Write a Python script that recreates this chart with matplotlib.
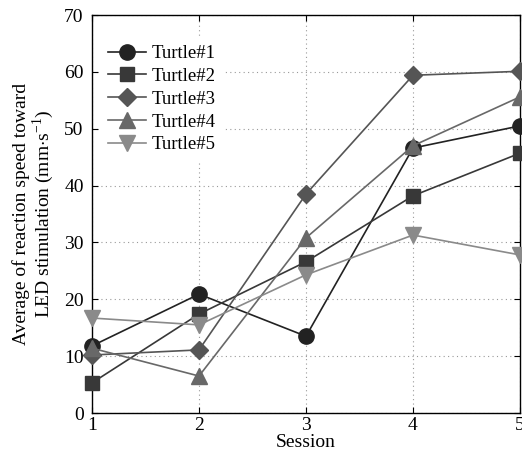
import matplotlib
matplotlib.use("Agg")
import matplotlib.pyplot as plt

plt.rcParams["font.family"] = ["Liberation Serif", "DejaVu Serif"]
plt.rcParams["mathtext.fontset"] = "custom"
plt.rcParams["mathtext.rm"] = "Liberation Serif"

# ── data ─────────────────────────────────────────────────────────────────────
sessions = [1, 2, 3, 4, 5]
turtle1 = [11.8, 20.9, 13.5, 46.6, 50.5]
turtle2 = [5.3, 17.4, 26.6, 38.2, 45.7]
turtle3 = [10.2, 11.1, 38.5, 59.4, 60.1]
turtle4 = [11.4, 6.5, 30.8, 47.0, 55.6]
turtle5 = [16.7, 15.5, 24.3, 31.3, 27.8]
names = ["Turtle#1", "Turtle#2", "Turtle#3", "Turtle#4", "Turtle#5"]
y_ticks = [0, 10, 20, 30, 40, 50, 60, 70]

series = [turtle1, turtle2, turtle3, turtle4, turtle5]
styles = [
    ("o", "#222222", 11),
    ("s", "#383838", 9.5),
    ("D", "#555555", 9),
    ("^", "#686868", 12),
    ("v", "#8a8a8a", 12),
]

fig = plt.figure(figsize=(5.22, 4.54), dpi=100)
ax = fig.add_axes([92 / 522, 1 - 413 / 454, (520 - 92) / 522, (413 - 15) / 454])

for vals, name, (mk, col, ms) in zip(series, names, styles):
    ax.plot(sessions, vals, marker=mk, color=col, markersize=ms,
            linewidth=1.2, label=name, clip_on=False, zorder=3)

ax.set_xlim(1, 5)
ax.set_ylim(0, 70)
ax.set_xticks(sessions)
ax.set_yticks(y_ticks)
ax.grid(True, linestyle=(0, (1, 3)), color="#999999", linewidth=0.8)
ax.tick_params(direction="in", top=True, right=True, length=4,
               labelsize=14, width=0.8)
ax.tick_params(axis="y", pad=6)
ax.tick_params(axis="x", pad=3)
for sp in ax.spines.values():
    sp.set_linewidth(1.0)

ax.set_xlabel("Session", fontsize=14, labelpad=0)
ax.set_ylabel("Average of reaction speed toward\nLED stimulation (mm$\\cdot$s$^{-1}$)",
              fontsize=14, labelpad=6, linespacing=1.0)

leg = ax.legend(loc="upper left", bbox_to_anchor=(0.02, 0.943), borderaxespad=0,
                fontsize=13.5, frameon=True, framealpha=1,
                edgecolor="white", facecolor="white", handlelength=2.0,
                handletextpad=0.35, labelspacing=0.3, borderpad=0.4,
                fancybox=False)
leg.set_zorder(4)

fig.savefig("out.png", dpi=100)
